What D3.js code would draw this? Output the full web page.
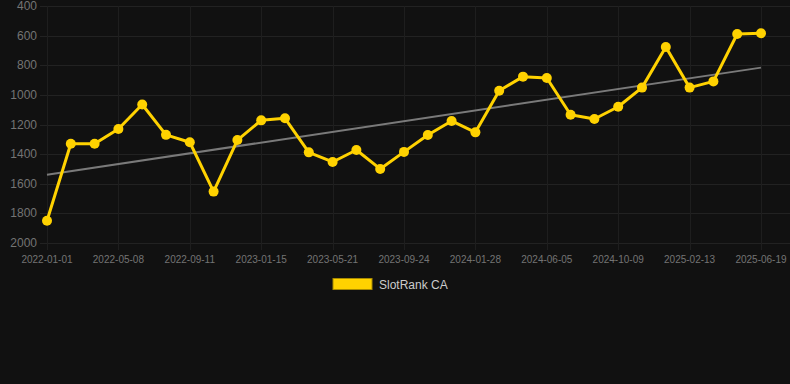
<!DOCTYPE html>
<html>
<head>
<meta charset="utf-8">
<title>SlotRank CA</title>
<style>
  html, body { margin: 0; padding: 0; background: #111111; }
  svg { display: block; }
</style>
</head>
<body>
<svg width="790" height="384"></svg>
<script src="https://d3js.org/d3.v7.min.js"></script>
<script>
// rank values, one every ~42 days
var ranks = [1850, 1330, 1330, 1230, 1065, 1270, 1320, 1653, 1305, 1172,
             1158, 1388, 1453, 1372, 1500, 1385, 1271, 1176, 1253, 972,
             877, 886, 1134, 1163, 1080, 951, 677, 951, 909, 589, 584];
// every third point gets a date label
var tickLabels = ['2022-01-01', '2022-05-08', '2022-09-11', '2023-01-15', '2023-05-21',
                  '2023-09-24', '2024-01-28', '2024-06-05', '2024-10-09', '2025-02-13', '2025-06-19'];
var yTicks = [400, 600, 800, 1000, 1200, 1400, 1600, 1800, 2000];
// trend line at first and last point
var trend = [1539, 816];
var seriesName = 'SlotRank CA';

var svg = d3.select('svg');
var plotLeft = 47, plotRight = 761, plotTop = 6, plotBottom = 243;

var x = d3.scaleLinear().domain([0, ranks.length - 1]).range([plotLeft, plotRight]);
var y = d3.scaleLinear().domain([400, 2000]).range([plotTop, plotBottom]);

// horizontal grid
svg.selectAll('.hgrid')
  .data(yTicks)
  .enter()
  .append('line')
  .attr('x1', 40)
  .attr('x2', 790)
  .attr('y1', function(d){ return Math.round(y(d)) + 0.5; })
  .attr('y2', function(d){ return Math.round(y(d)) + 0.5; })
  .style('stroke', '#222222')
  .style('stroke-width', 1);

// vertical grid
var tickIdx = tickLabels.map(function(d, i){ return i * 3; });
svg.selectAll('.vgrid')
  .data(tickIdx)
  .enter()
  .append('line')
  .attr('x1', function(d){ return Math.round(x(d)) + 0.5; })
  .attr('x2', function(d){ return Math.round(x(d)) + 0.5; })
  .attr('y1', plotTop)
  .attr('y2', plotBottom + 7)
  .style('stroke', '#1e1e1e')
  .style('stroke-width', 1);

// y labels
svg.selectAll('.ylab')
  .data(yTicks)
  .enter()
  .append('text')
  .text(function(d){ return d; })
  .attr('x', 37)
  .attr('y', function(d){ return y(d) + 4; })
  .attr('text-anchor', 'end')
  .attr('font-family', 'Helvetica, Arial, sans-serif')
  .attr('font-size', '12px')
  .attr('fill', '#747474');

// x labels
svg.selectAll('.xlab')
  .data(tickLabels)
  .enter()
  .append('text')
  .text(function(d){ return d; })
  .attr('x', function(d, i){ return x(i * 3); })
  .attr('y', 263)
  .attr('text-anchor', 'middle')
  .attr('font-family', 'Helvetica, Arial, sans-serif')
  .attr('font-size', '10px')
  .attr('fill', '#747474');

// trend
svg.append('line')
  .attr('x1', x(0))
  .attr('x2', x(ranks.length - 1))
  .attr('y1', y(trend[0]))
  .attr('y2', y(trend[1]))
  .style('stroke', '#7a7a7a')
  .style('stroke-width', 2);

// main series
var line = d3.line()
  .x(function(d, i){ return x(i); })
  .y(function(d){ return y(d); });

svg.append('path')
  .datum(ranks)
  .attr('d', line)
  .attr('fill', 'none')
  .style('stroke', '#ffd200')
  .style('stroke-width', 3)
  .style('stroke-linejoin', 'round');

svg.selectAll('.pt')
  .data(ranks)
  .enter()
  .append('circle')
  .attr('cx', function(d, i){ return x(i); })
  .attr('cy', function(d){ return y(d); })
  .attr('r', 5)
  .attr('fill', '#ffd200');

// legend
svg.append('rect')
  .attr('x', 333)
  .attr('y', 278.5)
  .attr('width', 39)
  .attr('height', 11)
  .attr('fill', '#ffd200')
  .style('stroke', '#a88a00')
  .style('stroke-width', 1);

svg.append('text')
  .text(seriesName)
  .attr('x', 379)
  .attr('y', 289)
  .attr('font-family', 'Helvetica, Arial, sans-serif')
  .attr('font-size', '12px')
  .attr('fill', '#cccccc');
</script>
</body>
</html>
